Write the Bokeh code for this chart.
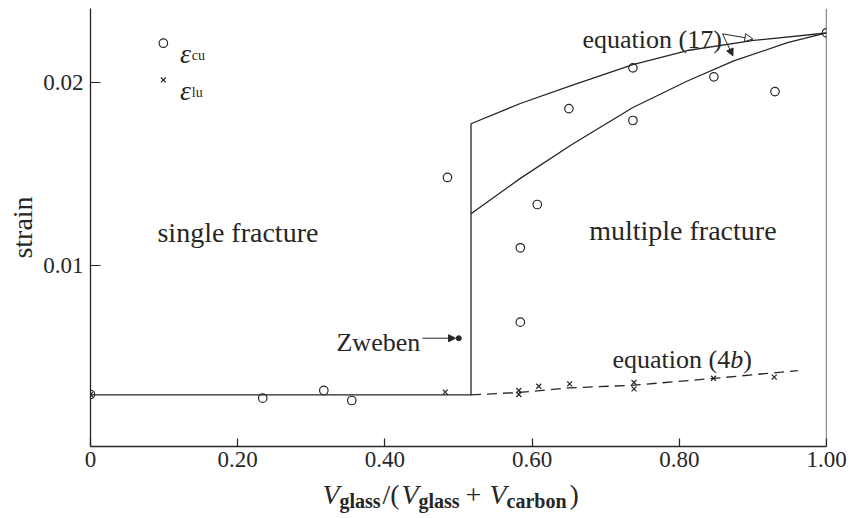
from bokeh.plotting import figure
from bokeh.layouts import column
from bokeh.models import Range1d, FixedTicker, Span, Label, Arrow, NormalHead, Title
from bokeh.embed import file_html
from bokeh.resources import INLINE

# ---------------- data ----------------
# epsilon_cu (open circles)
cu_x = [0.0, 0.234, 0.317, 0.355, 0.485, 0.607, 0.584, 0.584, 0.650, 0.737, 0.737, 0.847, 0.930, 1.0]
cu_y = [0.00294, 0.00274, 0.00316, 0.00261, 0.01482, 0.01334, 0.01097, 0.00690, 0.01859,
        0.02082, 0.01794, 0.02033, 0.01952, 0.02274]
# epsilon_lu (crosses)
lu_x = [0.0, 0.482, 0.582, 0.582, 0.609, 0.651, 0.7385, 0.7385, 0.8465, 0.929]
lu_y = [0.00294, 0.00307, 0.00316, 0.00294, 0.00339, 0.00352, 0.00360, 0.00325, 0.00383, 0.00389]
# single-fracture line and the jump
single_x = [0.0, 0.517, 0.517]
single_y = [0.00292, 0.00292, 0.01776]
# equation (17), upper and lower curves
upper_x = [0.517, 0.584, 0.653, 0.737, 0.811, 0.901, 1.0]
upper_y = [0.01776, 0.01887, 0.01985, 0.02100, 0.02177, 0.02232, 0.02273]
lower_x = [0.517, 0.584, 0.653, 0.737, 0.811, 0.874, 0.947, 1.0]
lower_y = [0.01283, 0.01477, 0.01660, 0.01865, 0.02010, 0.02120, 0.02220, 0.02273]
# equation (4b), dashed
eq4b_x = [0.517, 0.582, 0.651, 0.738, 0.847, 0.961]
eq4b_y = [0.00292, 0.00305, 0.00330, 0.00345, 0.00382, 0.00425]
# Zweben point
zweben_x = [0.5004]
zweben_y = [0.00602]

x_ticks = [0, 0.2, 0.4, 0.6, 0.8, 1.0]
x_tick_labels = ["0", "0.20", "0.40", "0.60", "0.80", "1.00"]
y_ticks = [0.01, 0.02]
y_tick_labels = ["0.01", "0.02"]

INK = "#262626"
SERIF = "Liberation Serif"

p = figure(width=859, height=480, output_backend="svg", toolbar_location=None,
           x_range=Range1d(0, 1.0), y_range=Range1d(0.000093, 0.02407),
           min_border_left=90, min_border_right=33, min_border_top=8, min_border_bottom=34)
p.outline_line_color = None
p.grid.visible = False
p.background_fill_color = "white"
p.border_fill_color = "white"

for ax in (p.xaxis[0], p.yaxis[0]):
    ax.axis_line_color = INK
    ax.axis_line_width = 1.3
    ax.major_tick_line_color = INK
    ax.major_tick_line_width = 1.2
    ax.major_tick_out = 0
    ax.minor_tick_line_color = None
    ax.major_label_text_font = SERIF
    ax.major_label_text_font_size = "23px"
    ax.major_label_text_color = INK

p.xaxis.ticker = FixedTicker(ticks=x_ticks)
p.xaxis.major_label_overrides = dict(zip(x_ticks, x_tick_labels))
p.xaxis.major_tick_in = 8
p.xaxis.major_label_standoff = 5
p.yaxis.ticker = FixedTicker(ticks=y_ticks)
p.yaxis.major_label_overrides = dict(zip(y_ticks, y_tick_labels))
p.yaxis.major_tick_in = 10
p.yaxis.major_label_standoff = 7

# y axis title as a side title (sits a little below the centre, as in the reference)
p.add_layout(Title(text="strain", align="center", offset=-13, standoff=6,
                   text_font=SERIF, text_font_size="28px", text_font_style="normal",
                   text_color=INK), "left")

# right frame line at x = 1
p.add_layout(Span(location=1.0, dimension="height", line_color=INK, line_width=1.3))

# curves
p.line(single_x + upper_x[1:], single_y + upper_y[1:], line_color=INK, line_width=1.3)
p.line(lower_x, lower_y, line_color=INK, line_width=1.3)
p.line(eq4b_x, eq4b_y, line_color=INK, line_width=1.3, line_dash="10 6")

# points
p.scatter(cu_x, cu_y, marker="circle", size=8.5, fill_color=None, line_color=INK, line_width=1.2)
p.scatter(lu_x, lu_y, marker="x", size=7, line_color=INK, line_width=1.2)
p.scatter(zweben_x, zweben_y, marker="circle", size=5, fill_color=INK, line_color=INK)

# legend (manual)
p.scatter([0.099], [0.02217], marker="circle", size=8.5, fill_color=None, line_color=INK, line_width=1.2)
p.scatter([0.099], [0.02016], marker="x", size=7, line_color=INK, line_width=1.2)


def lab(fig, x, y, text, size, style="normal", **kw):
    fig.add_layout(Label(x=x, y=y, text=text, text_font=SERIF, text_font_size=f"{size}px",
                         text_font_style=style, text_color=INK, text_baseline="alphabetic", **kw))


lab(p, 0.1216, 0.02160, "ε", 28, "italic")
lab(p, 0.1376, 0.02149, "cu", 14)
lab(p, 0.1216, 0.01958, "ε", 28, "italic")
lab(p, 0.1376, 0.01947, "lu", 14)

# region / curve labels
lab(p, 0.0910, 0.01183, "single fracture", 28)
lab(p, 0.6776, 0.01192, "multiple fracture", 28)
lab(p, 0.6685, 0.02237, "equation (17)", 26)
lab(p, 0.7092, 0.00486, "equation (4", 26)
lab(p, 0.8691, 0.00486, "b", 26, "italic")
lab(p, 0.8868, 0.00486, ")", 26)
lab(p, 0.3342, 0.00580, "Zweben", 26)

# arrows
p.add_layout(Arrow(end=NormalHead(size=8, fill_color="white", line_color=INK, line_width=1),
                   x_start=0.8588, y_start=0.02268, x_end=0.900, y_end=0.02240,
                   line_color=INK, line_width=1))
p.add_layout(Arrow(end=NormalHead(size=7, fill_color=INK, line_color=INK, line_width=1),
                   x_start=0.8588, y_start=0.02268, x_end=0.8728, y_end=0.02148,
                   line_color=INK, line_width=1))
p.add_layout(Arrow(end=NormalHead(size=7, fill_color=INK, line_color=INK, line_width=1),
                   x_start=0.4510, y_start=0.00602, x_end=0.4960, y_end=0.00602,
                   line_color=INK, line_width=1))

# ---------- x axis title strip:  V_glass/(V_glass + V_carbon) ----------
# the column aligns this strip's frame with the chart frame (pixels 90..826),
# so the range is set to those pixel columns
q = figure(width=859, height=38, output_backend="svg", toolbar_location=None,
           x_range=Range1d(90, 826), y_range=Range1d(0, 38),
           x_axis_location=None, y_axis_location=None,
           min_border_left=0, min_border_right=0, min_border_top=0, min_border_bottom=0)
q.outline_line_color = None
q.grid.visible = False
q.background_fill_color = "white"
q.border_fill_color = "white"

ym = 24
ys = 18
lab(q, 322, ym, "V", 28, "italic")
lab(q, 339, ys, "glass", 20, "bold")
lab(q, 382, ym, "/(", 28)
lab(q, 401, ym, "V", 28, "italic")
lab(q, 418, ys, "glass", 20, "bold")
lab(q, 465, ym, "+", 28)
lab(q, 489, ym, "V", 28, "italic")
lab(q, 506, ys, "carbon", 20, "bold")
lab(q, 569, ym, ")", 28)

layout = column(p, q, spacing=0)
open("out.html", "w").write(file_html(layout, INLINE))
